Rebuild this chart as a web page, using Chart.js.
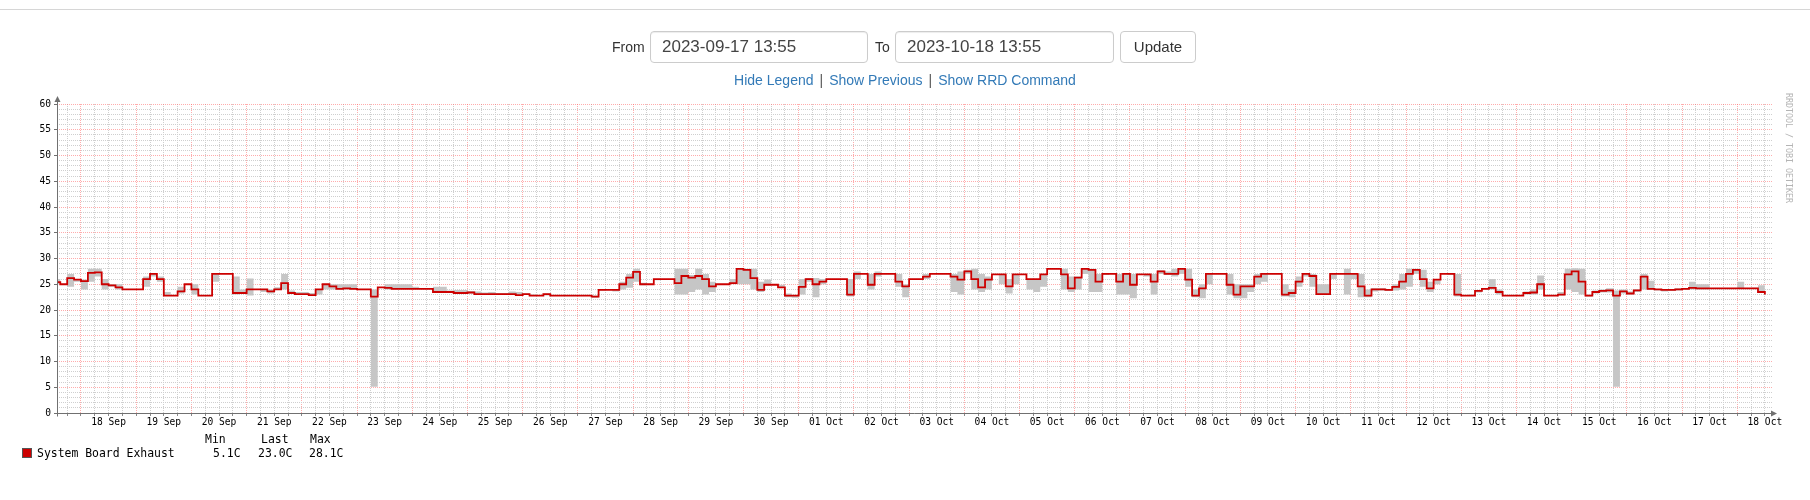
<!DOCTYPE html>
<html>
<head>
<meta charset="utf-8">
<title>System Board Exhaust</title>
<script src="https://cdn.jsdelivr.net/npm/chart.js@4.4.0/dist/chart.umd.min.js"></script>
<style>
  html, body { margin: 0; padding: 0; background: #fff; }
  body { width: 1810px; height: 500px; position: relative; overflow: hidden; font-family: "Liberation Sans", Arial, sans-serif; color: #333; }
  #tempChart { position: absolute; left: 0; top: 0; }
  #topline { position: absolute; left: 0; top: 9px; width: 1810px; height: 1px; background: #d6d6d6; }
  .lbl { position: absolute; top: 38px; font-size: 14px; line-height: 18px; color: #333; }
  .inp { position: absolute; top: 31px; height: 32px; box-sizing: border-box; border: 1px solid #ccc; border-radius: 4px; box-shadow: inset 0 1px 1px rgba(0,0,0,.075); font-size: 17px; line-height: 30px; padding-left: 11px; color: #444; background: #fff; }
  .btn { position: absolute; top: 31px; left: 1120px; width: 76px; height: 32px; box-sizing: border-box; border: 1px solid #ccc; border-radius: 4px; font-size: 15px; line-height: 30px; text-align: center; color: #333; background: #fff; }
  #links { position: absolute; top: 71px; left: 0; width: 1810px; text-align: center; font-size: 14px; line-height: 18px; color: #333; }
  #links a { color: #337ab7; text-decoration: none; }
  #links .sep { color: #555; padding: 0 6px; }
  #credit { position: absolute; left: 1784px; top: 93px; writing-mode: vertical-rl; font-family: "DejaVu Sans Mono", monospace; font-size: 8.3px; color: #b4b4b4; letter-spacing: 0; }
  .leg { position: absolute; font-family: "DejaVu Sans Mono", monospace; font-size: 11.45px; line-height: 14px; color: #000; white-space: pre; }
  #swatch { position: absolute; left: 22px; top: 448px; width: 8px; height: 8px; background: #cc0000; border: 1px solid #555; }
</style>
</head>
<body>
<canvas id="tempChart" width="1810" height="500"></canvas>
<div id="topline"></div>
<div class="lbl" style="left:612px">From</div>
<div class="inp" style="left:650px;width:218px">2023-09-17 13:55</div>
<div class="lbl" style="left:875px">To</div>
<div class="inp" style="left:895px;width:219px">2023-10-18 13:55</div>
<div class="btn">Update</div>
<div id="links"><a>Hide Legend</a><span class="sep">|</span><a>Show Previous</a><span class="sep">|</span><a>Show RRD Command</a></div>
<div id="credit">RRDTOOL / TOBI OETIKER</div>
<div class="leg" style="left:205px;top:432px">Min</div>
<div class="leg" style="left:261px;top:432px">Last</div>
<div class="leg" style="left:310px;top:432px">Max</div>
<div id="swatch"></div>
<div class="leg" style="left:37px;top:446px">System Board Exhaust</div>
<div class="leg" id="statMin" style="left:213px;top:446px"></div>
<div class="leg" id="statLast" style="left:258px;top:446px"></div>
<div class="leg" id="statMax" style="left:309px;top:446px"></div>
<script>
// hours are counted from 18 Sep 00:00, one value every 3 hours
const startHour = -12;
const stepHours = 3;

const dayLabels = [
  '18 Sep', '19 Sep', '20 Sep', '21 Sep', '22 Sep', '23 Sep', '24 Sep', '25 Sep',
  '26 Sep', '27 Sep', '28 Sep', '29 Sep', '30 Sep', '01 Oct', '02 Oct', '03 Oct',
  '04 Oct', '05 Oct', '06 Oct', '07 Oct', '08 Oct', '09 Oct', '10 Oct', '11 Oct',
  '12 Oct', '13 Oct', '14 Oct', '15 Oct', '16 Oct', '17 Oct', '18 Oct'
];

const yTickValues = [0, 5, 10, 15, 20, 25, 30, 35, 40, 45, 50, 55, 60];

// average temperature (red line)
const avgTemp = [
  25.4, 25.0, 26.2, 25.9,
  25.6, 27.2, 27.3, 25.0, 24.8, 24.4, 24.0, 24.0,
  24.0, 26.0, 27.0, 26.0, 22.8, 22.8, 23.6, 25.0,
  24.0, 22.8, 22.8, 27.0, 27.0, 27.0, 23.3, 23.3,
  24.0, 24.0, 24.0, 23.6, 24.0, 25.2, 23.3, 23.1,
  23.1, 22.9, 24.0, 25.0, 24.6, 24.1, 24.2, 24.1,
  24.0, 24.0, 22.6, 24.4, 24.3, 24.1, 24.1, 24.1,
  24.1, 24.1, 24.1, 23.5, 23.5, 23.5, 23.3, 23.3,
  23.4, 23.1, 23.1, 23.1, 23.1, 23.1, 23.1, 22.9,
  23.1, 22.8, 22.8, 23.1, 22.8, 22.8, 22.8, 22.8,
  22.8, 22.8, 22.6, 23.9, 23.9, 23.9, 25.0, 26.3,
  27.4, 25.0, 25.0, 26.0, 26.0, 26.0, 25.2, 26.6,
  26.3, 26.6, 26.0, 24.6, 25.0, 25.0, 25.2, 28.0,
  27.8, 26.2, 23.9, 24.9, 24.9, 24.4, 22.8, 22.8,
  24.5, 26.0, 25.0, 25.5, 26.0, 26.0, 26.0, 23.0,
  27.0, 27.0, 24.9, 27.0, 27.0, 27.0, 25.5, 24.6,
  26.0, 26.0, 26.5, 27.0, 27.0, 27.0, 26.5, 25.9,
  27.5, 26.0, 24.4, 25.9, 26.9, 26.9, 24.6, 26.9,
  26.9, 26.0, 26.0, 26.9, 28.0, 28.0, 26.9, 24.2,
  26.3, 28.0, 27.8, 25.5, 27.0, 27.0, 25.5, 27.0,
  24.9, 26.9, 26.9, 25.5, 27.5, 27.0, 27.0, 28.0,
  25.9, 22.8, 24.2, 27.0, 27.0, 27.0, 24.9, 23.0,
  24.6, 24.6, 26.5, 27.0, 27.0, 27.0, 23.0, 23.3,
  25.5, 27.0, 26.6, 23.1, 23.1, 27.0, 27.0, 27.0,
  27.0, 24.6, 22.8, 24.0, 24.0, 23.9, 24.5, 25.5,
  27.0, 27.8, 26.0, 24.2, 25.9, 27.0, 27.0, 23.0,
  22.8, 22.8, 23.7, 24.1, 24.3, 23.5, 22.8, 22.8,
  22.8, 23.3, 23.4, 25.0, 22.8, 22.8, 23.0, 26.9,
  27.5, 25.5, 22.8, 23.5, 23.7, 23.8, 22.8, 23.6,
  23.2, 23.8, 26.5, 24.1, 24.0, 23.9, 23.9, 24.0,
  24.1, 24.3, 24.2, 24.2, 24.2, 24.2, 24.2, 24.2,
  24.2, 24.2, 24.2, 23.5, 23.0
];

// lowest reading in each step (bottom of grey band)
const minTemp = [
  25.0, 25.0, 24.5, 25.5,
  24.0, 25.5, 26.5, 24.0, 24.5, 24.0, 24.0, 24.0,
  24.0, 24.5, 26.5, 25.5, 22.8, 22.8, 23.2, 25.0,
  23.0, 22.8, 22.8, 25.5, 27.0, 27.0, 23.0, 23.2,
  22.8, 24.0, 23.5, 23.2, 24.0, 24.0, 23.2, 22.9,
  22.9, 22.7, 23.0, 24.0, 24.0, 24.0, 24.0, 24.0,
  24.0, 24.0, 5.1, 24.4, 24.0, 24.0, 24.1, 24.1,
  24.1, 24.1, 24.1, 23.4, 23.4, 23.3, 23.1, 23.1,
  23.2, 23.0, 23.0, 23.0, 23.0, 23.0, 23.0, 22.8,
  22.9, 22.8, 22.8, 22.8, 22.8, 22.8, 22.8, 22.8,
  22.8, 22.8, 22.4, 23.8, 23.9, 23.6, 24.0, 24.3,
  25.5, 24.8, 25.0, 25.8, 26.0, 26.0, 23.0, 23.0,
  23.5, 24.0, 23.0, 23.5, 25.0, 25.0, 25.0, 25.0,
  25.0, 24.0, 23.5, 24.7, 24.9, 24.3, 22.5, 22.4,
  23.0, 25.5, 22.5, 25.0, 26.0, 26.0, 26.0, 22.6,
  26.0, 27.0, 24.0, 26.5, 27.0, 27.0, 24.5, 22.5,
  26.0, 26.0, 26.0, 27.0, 27.0, 27.0, 23.5, 23.0,
  27.0, 24.0, 23.5, 24.0, 26.9, 25.0, 23.2, 25.0,
  26.9, 24.0, 23.5, 24.5, 28.0, 28.0, 24.0, 23.5,
  24.0, 27.0, 23.5, 23.5, 26.8, 27.0, 23.0, 23.0,
  22.3, 26.9, 26.5, 23.0, 27.0, 26.8, 26.5, 27.0,
  24.5, 22.5, 22.3, 25.0, 27.0, 27.0, 23.0, 22.3,
  22.3, 23.5, 25.0, 25.5, 27.0, 27.0, 22.6, 22.5,
  24.5, 26.5, 24.5, 23.0, 22.9, 26.0, 27.0, 23.0,
  26.0, 22.5, 22.5, 23.6, 23.8, 23.7, 23.8, 24.0,
  24.5, 27.0, 24.5, 23.5, 25.0, 27.0, 26.8, 22.6,
  22.8, 22.7, 23.4, 24.0, 24.0, 23.0, 22.8, 22.8,
  22.8, 23.0, 23.0, 24.0, 22.8, 22.8, 22.8, 24.0,
  23.5, 23.0, 22.6, 23.2, 23.4, 23.4, 5.1, 23.2,
  23.0, 23.5, 24.0, 24.0, 23.8, 23.6, 23.7, 23.8,
  24.0, 24.0, 24.0, 24.0, 24.2, 24.2, 24.2, 24.2,
  24.2, 24.2, 24.1, 23.5, 23.0
];

// highest reading in each step (top of grey band)
const maxTemp = [
  26.0, 25.0, 27.0, 26.0,
  25.9, 28.0, 28.0, 26.0, 25.0, 25.0, 24.0, 24.0,
  24.0, 26.5, 27.0, 26.5, 23.5, 22.8, 24.5, 25.0,
  25.0, 22.8, 22.8, 27.0, 27.0, 27.2, 26.5, 24.0,
  26.1, 24.0, 24.0, 24.0, 24.4, 27.0, 23.8, 23.5,
  23.5, 23.3, 24.0, 25.0, 25.0, 25.0, 25.0, 25.0,
  24.0, 24.0, 24.0, 24.4, 25.0, 25.0, 25.0, 25.0,
  24.5, 24.1, 24.1, 24.5, 24.5, 23.8, 23.9, 23.9,
  23.7, 23.6, 23.4, 23.5, 23.3, 23.3, 23.6, 23.5,
  23.2, 23.0, 22.8, 23.2, 22.8, 22.8, 22.8, 22.8,
  22.8, 22.8, 22.8, 24.0, 24.0, 24.0, 25.5, 27.0,
  28.0, 25.3, 25.0, 26.0, 26.0, 26.0, 28.0, 28.0,
  26.8, 28.0, 27.0, 25.5, 25.0, 25.0, 26.0, 28.1,
  28.0, 28.0, 25.5, 25.9, 24.9, 24.9, 23.2, 22.8,
  26.0, 26.2, 26.2, 26.0, 26.0, 26.0, 26.0, 26.0,
  27.5, 27.0, 27.0, 27.5, 27.0, 27.0, 27.0, 25.0,
  26.0, 26.0, 27.0, 27.0, 27.0, 27.0, 27.0, 27.5,
  27.8, 28.0, 27.0, 26.5, 26.9, 27.0, 26.0, 27.0,
  26.9, 26.0, 26.0, 27.0, 28.0, 28.0, 28.0, 26.5,
  26.5, 28.0, 28.0, 27.0, 27.2, 27.0, 27.0, 27.2,
  27.0, 26.9, 27.0, 27.0, 27.7, 27.5, 28.0, 28.0,
  28.0, 24.0, 25.0, 27.0, 27.0, 27.0, 27.0, 25.0,
  25.0, 25.0, 27.0, 27.0, 27.0, 27.0, 25.0, 24.0,
  26.5, 27.0, 27.0, 25.0, 25.0, 27.0, 27.0, 28.0,
  27.0, 27.0, 24.0, 24.2, 24.2, 24.0, 25.0, 27.0,
  28.0, 28.0, 27.8, 25.5, 26.0, 27.0, 27.0, 27.0,
  22.8, 23.0, 23.9, 24.2, 26.0, 24.0, 22.8, 22.8,
  22.8, 23.6, 24.0, 26.7, 22.8, 22.8, 23.5, 28.0,
  28.1, 28.0, 23.0, 23.8, 24.0, 24.2, 23.8, 24.0,
  23.6, 24.0, 27.0, 25.7, 24.1, 24.1, 24.0, 24.2,
  24.2, 25.5, 25.0, 25.0, 24.2, 24.2, 24.2, 24.2,
  25.5, 24.2, 24.3, 24.8, 23.0
];

const hours = avgTemp.map((_, i) => startHour + i * stepHours);
const toPoints = arr => arr.map((v, i) => ({ x: hours[i], y: v }));

document.getElementById('statMin').textContent = Math.min(...minTemp).toFixed(1) + 'C';
document.getElementById('statLast').textContent = avgTemp[avgTemp.length - 1].toFixed(1) + 'C';
document.getElementById('statMax').textContent = Math.max(...maxTemp).toFixed(1) + 'C';

const majorGrid = 'rgba(255, 90, 90, 0.5)';
const minorGrid = '#cfcfcf';
const monoFont = { family: 'DejaVu Sans Mono', size: 9.6 };

const axisArrows = {
  id: 'axisArrows',
  afterDraw(chart) {
    const { ctx, chartArea } = chart;
    const x0 = Math.round(chartArea.left) + 0.5;
    const y0 = Math.round(chartArea.bottom) + 0.5;
    ctx.save();
    ctx.strokeStyle = '#707070';
    ctx.fillStyle = '#707070';
    ctx.lineWidth = 1;
    ctx.beginPath();
    ctx.moveTo(x0, y0 + 3);
    ctx.lineTo(x0, chartArea.top - 5);
    ctx.moveTo(x0 - 3, y0);
    ctx.lineTo(chartArea.right + 2, y0);
    ctx.stroke();
    ctx.beginPath();
    ctx.moveTo(x0, chartArea.top - 8);
    ctx.lineTo(x0 - 3, chartArea.top - 2);
    ctx.lineTo(x0 + 3, chartArea.top - 2);
    ctx.closePath();
    ctx.fill();
    ctx.beginPath();
    ctx.moveTo(chartArea.right + 5, y0);
    ctx.lineTo(chartArea.right - 1, y0 - 3);
    ctx.lineTo(chartArea.right - 1, y0 + 3);
    ctx.closePath();
    ctx.fill();
    ctx.restore();
  }
};

// each value holds from its own hour until the next one
new Chart(document.getElementById('tempChart'), {
  type: 'line',
  data: {
    datasets: [
      {
        label: 'System Board Exhaust',
        data: toPoints(avgTemp),
        stepped: 'before',
        borderColor: '#cc0000',
        borderWidth: 1.8,
        pointRadius: 0,
        fill: false,
        order: 0,
      },
      {
        label: 'max',
        data: toPoints(maxTemp),
        stepped: 'before',
        borderWidth: 0,
        borderColor: 'rgba(0,0,0,0)',
        backgroundColor: '#c6c6c6',
        pointRadius: 0,
        fill: '+1',
        order: 1,
      },
      {
        label: 'min',
        data: toPoints(minTemp),
        stepped: 'before',
        borderWidth: 0,
        borderColor: 'rgba(0,0,0,0)',
        pointRadius: 0,
        fill: false,
        order: 2,
      },
    ],
  },
  options: {
    responsive: false,
    animation: false,
    layout: { padding: { left: 17, right: 38, top: 104, bottom: 57 } },
    plugins: {
      legend: { display: false },
      tooltip: { enabled: false },
    },
    scales: {
      x: {
        type: 'linear',
        bounds: 'data',
        min: -10.43,
        max: 735.1,
        afterFit: (scale) => { scale.height = 30; },
        afterBuildTicks: (scale) => {
          const ticks = [];
          for (let h = -6; h <= 732; h += 6) ticks.push({ value: h });
          scale.ticks = ticks;
        },
        border: { display: false, dash: [1, 1] },
        grid: {
          color: (ctx) => (ctx.tick && ctx.tick.value % 24 === 0 ? majorGrid : minorGrid),
          lineWidth: 1,
          drawTicks: true,
          tickLength: 3,
          tickColor: '#8a8a8a',
        },
        ticks: {
          autoSkip: false,
          maxRotation: 0,
          padding: 1,
          color: '#000',
          font: monoFont,
          callback: (value) => {
            const d = (value - 12) / 24;
            return Number.isInteger(d) && d >= 0 && d < dayLabels.length ? dayLabels[d] : '';
          },
        },
      },
      y: {
        type: 'linear',
        bounds: 'data',
        min: 0,
        max: 60,
        afterFit: (scale) => { scale.width = 40; },
        afterBuildTicks: (scale) => {
          const ticks = [];
          for (let v = 0; v <= 60; v += 1) ticks.push({ value: v });
          scale.ticks = ticks;
        },
        border: { display: false, dash: [1, 1] },
        grid: {
          color: (ctx) => (ctx.tick && ctx.tick.value % 5 === 0 ? majorGrid : minorGrid),
          lineWidth: 1,
          drawTicks: true,
          tickLength: 3,
          tickColor: (ctx) => (ctx.tick && ctx.tick.value % 5 === 0 ? '#707070' : 'rgba(0,0,0,0)'),
        },
        ticks: {
          autoSkip: false,
          padding: 3,
          color: '#000',
          font: monoFont,
          callback: (value) => (yTickValues.includes(value) ? String(value) : ''),
        },
      },
    },
  },
  plugins: [axisArrows],
});
</script>
</body>
</html>
